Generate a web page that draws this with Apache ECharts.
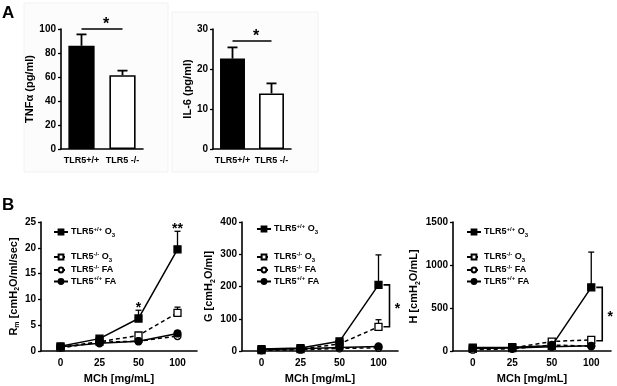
<!DOCTYPE html>
<html>
<head>
<meta charset="utf-8">
<script src="https://cdn.jsdelivr.net/npm/echarts@6/dist/echarts.min.js"></script>
<style>
  html, body { margin: 0; padding: 0; background: #fff; }
  #chart { width: 617px; height: 386px; }
</style>
</head>
<body>
<div id="chart"></div>
<script>
// ---- panel A : cytokines ----
const aGroups = ['TLR5+/+', 'TLR5 -/-'];
const tnfMean = [86, 61.5];
const tnfSem = [9.5, 3.8];
const il6Mean = [22.6, 13.9];
const il6Sem = [2.8, 2.5];
const tnfSigLevel = 100;
const il6SigLevel = 27;
const tnfAxis = [0, 100, 20]; // min, max, step
const il6Axis = [0, 30, 10];

// ---- panel B : methacholine response ----
const doses = ['0', '25', '50', '100'];
const groupNames = ['TLR5+/+ O3', 'TLR5-/- O3', 'TLR5-/- FA', 'TLR5+/+ FA'];

const rmMean = [
  [0.9, 2.4, 6.3, 19.7],
  [0.7, 1.8, 3.0, 7.4],
  [0.6, 1.7, 1.9, 2.9],
  [0.8, 1.5, 1.9, 3.4]
];
const rmSem = [
  [0.2, 0.3, 1.6, 3.5],
  [0.1, 0.2, 0.3, 1.1],
  [0.1, 0.1, 0.2, 0.3],
  [0.1, 0.2, 0.2, 0.5]
];
const gMean = [
  [6, 9, 30, 205],
  [3, 6, 22, 75],
  [2, 4, 8, 10],
  [5, 7, 11, 14]
];
const gSem = [
  [1, 2, 8, 93],
  [1, 1, 3, 22],
  [0.5, 1, 1, 2],
  [1, 1, 2, 3]
];
const hMean = [
  [40, 45, 60, 740],
  [25, 35, 110, 130],
  [15, 25, 70, 55],
  [30, 35, 50, 60]
];
const hSem = [
  [5, 5, 10, 410],
  [5, 5, 10, 25],
  [3, 5, 8, 8],
  [3, 5, 5, 8]
];
const rmAxis = [0, 25, 5];
const gAxis = [0, 400, 100];
const hAxis = [0, 1500, 500];

// significance marks: [dose index, value, text]
const rmStars = [[2, 7.9, '*'], [3, 23.2, '**']];
// brackets between the two O3 groups at 100 mg/mL: [dose index, high, low]
const gBracket = [[3, 205, 75]];
const hBracket = [[3, 740, 120]];

const FONT = 'Liberation Sans';
const BLACK = '#000';

const groupStyle = {
  'TLR5+/+ O3': { symbol: 'rect', size: 7, fill: BLACK, dash: 'solid' },
  'TLR5-/- O3': { symbol: 'rect', size: 7, fill: '#fff', dash: [4, 3] },
  'TLR5-/- FA': { symbol: 'circle', size: 7, fill: '#fff', dash: [4, 3] },
  'TLR5+/+ FA': { symbol: 'circle', size: 7, fill: BLACK, dash: 'solid' }
};
const legendText = {
  'TLR5+/+ O3': '{t|TLR5}{s|+/+}{t| O}{d|3}',
  'TLR5-/- O3': '{t|TLR5}{s|-/-}{t| O}{d|3}',
  'TLR5-/- FA': '{t|TLR5}{s|-/-}{t| FA}',
  'TLR5+/+ FA': '{t|TLR5}{s|+/+}{t| FA}'
};

const myChart = echarts.init(document.getElementById('chart'), null, { renderer: 'canvas' });

/** error bar, upward only, with cap */
function errorBarItem(capHalf, lw) {
  return function (params, api) {
    const x = api.value(0);
    const m = api.value(1);
    const e = api.value(2);
    const a = api.coord([x, m]);
    const b = api.coord([x, m + e]);
    const st = { stroke: BLACK, lineWidth: lw };
    return {
      type: 'group',
      children: [
        { type: 'line', shape: { x1: a[0], y1: a[1], x2: b[0], y2: b[1] }, style: st },
        { type: 'line', shape: { x1: b[0] - capHalf, y1: b[1], x2: b[0] + capHalf, y2: b[1] }, style: st }
      ]
    };
  };
}

/** horizontal line between two bars with a star above */
function sigLineItem(params, api) {
  const lvl = api.value(2);
  const p1 = api.coord([api.value(0), lvl]);
  const p2 = api.coord([api.value(1), lvl]);
  return {
    type: 'group',
    children: [
      { type: 'line', shape: { x1: p1[0], y1: p1[1], x2: p2[0], y2: p2[1] }, style: { stroke: BLACK, lineWidth: 1.6 } },
      {
        type: 'text',
        style: {
          text: '*', x: (p1[0] + p2[0]) / 2 + 4, y: p1[1] - 4,
          fontSize: 16, fontWeight: 'bold', fontFamily: FONT,
          align: 'center', verticalAlign: 'middle', fill: BLACK
        }
      }
    ]
  };
}

/** star text above an error bar */
function starItem(params, api) {
  const p = api.coord([api.value(0), api.value(1)]);
  return {
    type: 'text',
    style: {
      text: api.value(2), x: p[0], y: p[1] - 2,
      fontSize: 14, fontWeight: 'bold', fontFamily: FONT,
      align: 'center', verticalAlign: 'middle', fill: BLACK
    }
  };
}

/** right square bracket with a star */
function bracketItem(params, api) {
  const hi = api.coord([api.value(0), api.value(1)]);
  const lo = api.coord([api.value(0), api.value(2)]);
  const x = hi[0] + 11;
  return {
    type: 'group',
    children: [
      {
        type: 'polyline',
        shape: { points: [[x - 6, hi[1]], [x, hi[1]], [x, lo[1]], [x - 6, lo[1]]] },
        style: { stroke: BLACK, lineWidth: 1.6, fill: null }
      },
      {
        type: 'text',
        style: {
          text: '*', x: x + 8, y: (hi[1] + lo[1]) / 2 + 3,
          fontSize: 14, fontWeight: 'bold', fontFamily: FONT,
          align: 'center', verticalAlign: 'middle', fill: BLACK
        }
      }
    ]
  };
}

const axisLineStyle = { show: true, lineStyle: { color: BLACK, width: 1.6 } };
const labelFont = { color: BLACK, fontSize: 10, fontWeight: 'bold', fontFamily: FONT };
const nameFont = { color: BLACK, fontSize: 11, fontWeight: 'bold', fontFamily: FONT };
const nameRich = {
  n: { fontSize: 11, fontWeight: 'bold', fontFamily: FONT, color: BLACK, lineHeight: 15 },
  sb: { fontSize: 7, fontWeight: 'bold', fontFamily: FONT, color: BLACK, lineHeight: 10, verticalAlign: 'bottom' }
};

function yAxisOf(gridIndex, range, name, gap) {
  return {
    type: 'value', gridIndex: gridIndex,
    min: range[0], max: range[1], interval: range[2],
    name: name, nameLocation: 'middle', nameGap: gap,
    nameTextStyle: Object.assign({}, nameFont, { rich: nameRich }),
    axisLine: axisLineStyle,
    axisTick: { show: true, length: 3, lineStyle: { color: BLACK, width: 1.3 } },
    axisLabel: Object.assign({ margin: 5, formatter: function (v) { return String(v); } }, labelFont),
    splitLine: { show: false }
  };
}
function xAxisOf(gridIndex, cats, name, size) {
  return {
    type: 'category', gridIndex: gridIndex, data: cats,
    boundaryGap: true,
    name: name || '', nameLocation: 'middle', nameGap: 22,
    nameTextStyle: nameFont,
    axisLine: axisLineStyle,
    axisTick: { show: false },
    axisLabel: Object.assign({ margin: 7, interval: 0 }, labelFont, { fontSize: size }),
    splitLine: { show: false }
  };
}

// A panels
const series = [];
function barPanel(idx, mean, sem, sigLevel) {
  series.push({
    type: 'bar', xAxisIndex: idx, yAxisIndex: idx,
    barWidth: '64%',
    data: mean.map(function (v, i) {
      return { value: v, itemStyle: { color: i === 0 ? BLACK : '#fff', borderColor: BLACK, borderWidth: 1.6 } };
    }),
    z: 3
  });
  series.push({
    type: 'custom', xAxisIndex: idx, yAxisIndex: idx, clip: false,
    renderItem: errorBarItem(5, 1.8),
    data: mean.map(function (v, i) { return [i, v, sem[i]]; }),
    z: 2
  });
  series.push({
    type: 'custom', xAxisIndex: idx, yAxisIndex: idx, clip: false,
    renderItem: sigLineItem,
    data: [[0, 1, sigLevel]],
    z: 4
  });
}
barPanel(0, tnfMean, tnfSem, tnfSigLevel);
barPanel(1, il6Mean, il6Sem, il6SigLevel);

// B panels
function curvePanel(idx, means, sems) {
  groupNames.forEach(function (name, g) {
    const st = groupStyle[name];
    series.push({
      type: 'custom', xAxisIndex: idx, yAxisIndex: idx, clip: false,
      renderItem: errorBarItem(3, 1.3),
      data: means[g].map(function (v, i) { return [i, v, sems[g][i]]; }),
      z: 1
    });
    series.push({
      type: 'line', name: name, xAxisIndex: idx, yAxisIndex: idx,
      data: means[g],
      symbol: st.symbol, symbolSize: st.size, showSymbol: true,
      lineStyle: { color: BLACK, width: 1.5, type: st.dash },
      itemStyle: { color: st.fill, borderColor: BLACK, borderWidth: 1.3 },
      z: g === 0 || g === 3 ? 4 : 3,
      animation: false
    });
  });
}
curvePanel(2, rmMean, rmSem);
curvePanel(3, gMean, gSem);
curvePanel(4, hMean, hSem);

series.push({ type: 'custom', xAxisIndex: 2, yAxisIndex: 2, clip: false, renderItem: starItem, data: rmStars, z: 5 });
series.push({ type: 'custom', xAxisIndex: 3, yAxisIndex: 3, clip: false, renderItem: bracketItem, data: gBracket, z: 5 });
series.push({ type: 'custom', xAxisIndex: 4, yAxisIndex: 4, clip: false, renderItem: bracketItem, data: hBracket, z: 5 });

const legendRich = {
  t: { fontSize: 9, fontWeight: 'bold', fontFamily: FONT, color: BLACK, lineHeight: 12 },
  s: { fontSize: 6, fontWeight: 'bold', fontFamily: FONT, color: BLACK, lineHeight: 7, verticalAlign: 'top' },
  d: { fontSize: 6, fontWeight: 'bold', fontFamily: FONT, color: BLACK, lineHeight: 7, verticalAlign: 'bottom' }
};
function legendOf(left, top, names) {
  return {
    left: left, top: top, orient: 'vertical', padding: 0,
    itemWidth: 14, itemHeight: 6, itemGap: 1,
    data: names, selectedMode: false,
    formatter: function (n) { return legendText[n]; },
    textStyle: { rich: legendRich, padding: [0, 0, 0, -2] }
  };
}

const option = {
  animation: false,
  backgroundColor: '#fff',
  title: [
    { text: 'A', left: 2, top: 5, padding: 0, textStyle: { fontSize: 17, fontWeight: 'bold', fontFamily: FONT, color: BLACK } },
    { text: 'B', left: 2, top: 197, padding: 0, textStyle: { fontSize: 17, fontWeight: 'bold', fontFamily: FONT, color: BLACK } }
  ],
  graphic: [
    { type: 'rect', z: -10, shape: { x: 24, y: 3, width: 144, height: 169 }, style: { fill: '#fcfcfc', stroke: '#f2f2f2' } },
    { type: 'rect', z: -10, shape: { x: 172, y: 12, width: 146, height: 160 }, style: { fill: '#fcfcfc', stroke: '#f2f2f2' } }
  ],
  grid: [
    { left: 61, top: 29, width: 82, height: 120 },
    { left: 213, top: 29, width: 78, height: 120 },
    { left: 41, top: 222, width: 156, height: 129 },
    { left: 242, top: 222, width: 156, height: 129 },
    { left: 453, top: 222, width: 158, height: 129 }
  ],
  xAxis: [
    xAxisOf(0, aGroups, '', 9),
    xAxisOf(1, aGroups, '', 9),
    xAxisOf(2, doses, 'MCh [mg/mL]', 10),
    xAxisOf(3, doses, 'MCh [mg/mL]', 10),
    xAxisOf(4, doses, 'MCh [mg/mL]', 10)
  ],
  yAxis: [
    yAxisOf(0, tnfAxis, 'TNFα (pg/ml)', 25),
    yAxisOf(1, il6Axis, 'IL-6 (pg/ml)', 20),
    yAxisOf(2, rmAxis, '{n|R}{sb|m}{n| [cmH}{sb|2}{n|O/ml/sec]}', 19),
    yAxisOf(3, gAxis, '{n|G [cmH}{sb|2}{n|O/ml]}', 22),
    yAxisOf(4, hAxis, '{n|H [cmH}{sb|2}{n|O/mL]}', 27)
  ],
  legend: [
    legendOf(53, 226, [groupNames[0]]),
    legendOf(53, 251, groupNames.slice(1)),
    legendOf(256, 223, [groupNames[0]]),
    legendOf(256, 251, groupNames.slice(1)),
    legendOf(466, 226, [groupNames[0]]),
    legendOf(466, 251, groupNames.slice(1))
  ],
  series: series
};

myChart.setOption(option);
window.addEventListener('resize', function () { myChart.resize(); });
</script>
</body>
</html>
